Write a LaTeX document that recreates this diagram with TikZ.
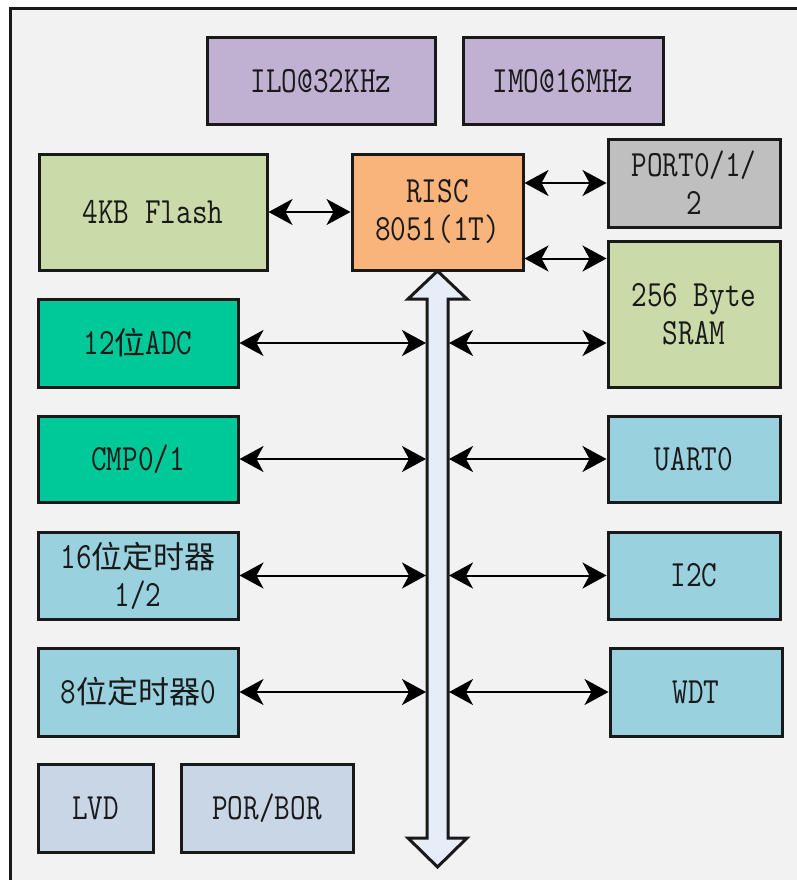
\documentclass[tikz,border=0pt]{standalone}
\usepackage{fontspec}
\newfontfamily\cjk{Noto Sans CJK SC}
\newfontfamily\mono[FakeStretch=0.82]{Latin Modern Mono}
\newcommand{\hz}[1]{{\cjk\fontsize{31}{38}\selectfont #1}}
\usepackage{tikz}
\usetikzlibrary{arrows.meta}
\definecolor{sfondo}{RGB}{242,242,242}
\definecolor{viola}{RGB}{192,177,210}
\definecolor{verde}{RGB}{203,218,169}
\definecolor{arancio}{RGB}{249,180,124}
\definecolor{grigio}{RGB}{191,191,191}
\definecolor{smeraldo}{RGB}{0,201,153}
\definecolor{azzurro}{RGB}{153,209,222}
\definecolor{celeste}{RGB}{201,214,229}
\definecolor{bus}{RGB}{230,237,248}

\begin{document}
\begin{tikzpicture}[x=1pt,y=-1pt,>={Stealth[length=24pt,width=26pt,inset=7pt]},
	blocco/.style={draw=black!90, line width=3pt, align=center, inner sep=0pt,
		font=\mono\fontsize{37}{38}\selectfont, text=black!90},
	collega/.style={<->, line width=2pt}]
		\useasboundingbox (0,0) rectangle (797,880);
		% Sfondo e cornice
		\fill [white] (0,0) rectangle (797,880);
		\fill [sfondo] (10.5,8.5) rectangle (797,880);
		\draw [line width=3pt, black!90] (10.5,880) -- (10.5,8.5) -- (797,8.5);
		% Oscillatori
		\node [blocco, fill=viola, minimum width=228, minimum height=87] (ILO) at (321,81.5) {ILO@32KHz};
		\node [blocco, fill=viola, minimum width=200, minimum height=87] (IMO) at (563,81.5) {IMO@16MHz};
		% CPU e memorie
		\node [blocco, fill=verde, minimum width=228, minimum height=116] (Flash) at (153,212) {4KB Flash};
		\node [blocco, fill=arancio, minimum width=171, minimum height=116] (RISC) at (437.5,212) {RISC\\8051(1T)};
		\node [blocco, fill=grigio, minimum width=172, minimum height=88] (PORT) at (694,183) {PORT0/1/\\2};
		\node [blocco, fill=verde, minimum width=172, minimum height=146] (SRAM) at (694,314) {256 Byte\\SRAM};
		% Periferiche a sinistra
		\node [blocco, fill=smeraldo, minimum width=200, minimum height=88] (ADC) at (138,343) {12\hz{位}ADC};
		\node [blocco, fill=smeraldo, minimum width=200, minimum height=86] (CMP) at (138,459) {CMP0/1};
		\node [blocco, fill=azzurro, minimum width=200, minimum height=87] (T16) at (138,575.5) {16\hz{位定时器}\\1/2};
		\node [blocco, fill=azzurro, minimum width=200, minimum height=88] (T8) at (138,692) {8\hz{位定时器}0};
		% Periferiche a destra
		\node [blocco, fill=azzurro, minimum width=172, minimum height=86] (UART) at (694,459) {UART0};
		\node [blocco, fill=azzurro, minimum width=172, minimum height=87] (I2C) at (694,575.5) {I2C};
		\node [blocco, fill=azzurro, minimum width=172, minimum height=88] (WDT) at (696,692) {WDT};
		% Reset
		\node [blocco, fill=celeste, minimum width=115, minimum height=88] (LVD) at (95.5,808) {LVD};
		\node [blocco, fill=celeste, minimum width=172, minimum height=88] (POR) at (267,808) {POR/BOR};
		% Bus
		\draw [line width=3pt, black!90, fill=bus, line join=miter] (437.5,271) -- (467,299) -- (448,299) -- (448,838) -- (467,838)
			-- (437.5,867) -- (408,838) -- (427,838) -- (427,299) -- (408,299) -- cycle;
		\coordinate (busL) at (426,0);
		\coordinate (busR) at (449,0);
		% Collegamenti
		\draw [collega] (Flash) -- (RISC);
		\draw [collega] (RISC.east |- PORT) -- (PORT);
		\draw [collega] ([yshift=13pt]RISC.south east) -- ([yshift=13pt]RISC.south east -| SRAM.west);
		\foreach \a in {ADC,CMP,T16,T8}
			\draw [collega] (\a) -- (\a -| busL);
		\draw [collega] (ADC -| busR) -- (ADC -| SRAM.west);
		\foreach \b in {UART,I2C,WDT}
			\draw [collega] (\b -| busR) -- (\b);
	\end{tikzpicture}
\end{document}
